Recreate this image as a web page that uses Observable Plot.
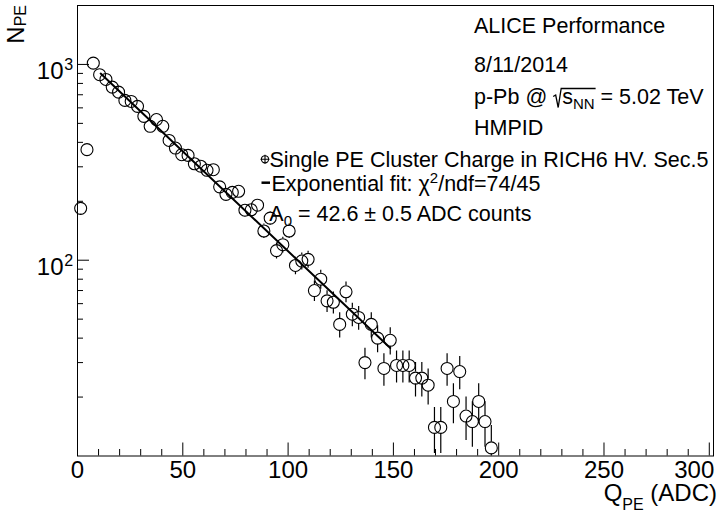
<!DOCTYPE html>
<html>
<head>
<meta charset="utf-8">
<script src="https://cdn.jsdelivr.net/npm/d3@7"></script>
<script src="https://cdn.jsdelivr.net/npm/@observablehq/plot@0.6"></script>
<style>
  html, body { margin: 0; padding: 0; background: #fff; }
  #chart { width: 728px; height: 515px; }
</style>
</head>
<body>
<div id="chart"></div>
<script>
// ---------------- data ----------------
const binCenters = [1.5,4.5,7.5,10.5,13.5,16.5,19.5,22.5,25.5,28.5,31.5,34.5,37.5,40.5,43.5,46.5,49.5,52.5,55.5,58.5,
  61.5,64.5,67.5,70.5,73.5,76.5,79.5,82.5,85.5,88.5,91.5,94.5,97.5,100.5,103.5,106.5,109.5,112.5,115.5,118.5,
  121.5,124.5,127.5,130.5,133.5,136.5,139.5,142.5,145.5,148.5,151.5,154.5,157.5,160.5,163.5,166.5,169.5,172.5,175.5,178.5,
  181.5,184.5,187.5,190.5,193.5,196.5];
const counts = [184,367,1015,886,838,766,722,655,647,611,543,483,523,483,409,374,346,343,311,302,
  288,290,237,217,222,225,180,181,191,141,164,112,120,141,94,99,101,70,80,62,
  61,47,69,53,51,30,47,40,28,39,29,29,29,25,25,23,14,14,28,19,
  27,16,15,19,15,11];
const errors = [13.6,19.2,31.9,29.8,28.9,27.7,26.9,25.6,25.4,24.7,23.3,22.0,22.9,22.0,20.2,19.3,18.6,18.5,17.6,17.4,
  17.0,17.0,15.4,14.7,14.9,15.0,13.4,13.5,13.8,11.9,12.8,10.6,11.0,11.9,9.7,9.9,10.0,8.4,8.9,7.9,
  7.8,6.9,8.3,7.3,7.1,5.5,6.9,6.3,5.3,6.2,5.4,5.4,5.4,5.0,5.0,4.8,3.7,3.7,5.3,4.4,
  5.2,4.0,3.9,4.4,3.9,3.3];
// exponential fit drawn between its end points (straight on a log axis)
const fitX = [11, 148.5];
const fitY = [898, 35.6];

const xMajorTicks = [0, 50, 100, 150, 200, 250, 300];
const xMinorTicks = [10,20,30,40,60,70,80,90,110,120,130,140,160,170,180,190,210,220,230,240,260,270,280,290];
const yMajorTicks = [100, 1000];
const yMajorExp = ["2", "3"];
const yMinorTicks = [20,30,40,50,60,70,80,90,200,300,400,500,600,700,800,900];

const headerLines = ["ALICE Performance", "8/11/2014", "HMPID"];
const legendEntry1 = "Single PE Cluster Charge in RICH6 HV. Sec.5";

// ---------------- layout ----------------
const W = 728, H = 515;
const mL = 77, mR = 15, mT = 5, mB = 59.5;
const frameW = W - mL - mR, frameH = H - mT - mB;
const xDomain = [0, 302];
const yDomain = [10, 2000];
const R = 6;
const FONT = "'Liberation Sans', Arial, Helvetica, sans-serif";

const yS = Plot.scale({y: {type: "log", domain: yDomain, range: [H - mB, mT]}});

const pts = binCenters.map((x, i) => ({x, n: counts[i], e: errors[i]}));
const upper = [], lower = [];
for (const d of pts) {
  const py = yS.apply(d.n);
  const topEdge = yS.invert(py - R);
  if (d.n + d.e > topEdge) upper.push({x: d.x, y1: topEdge, y2: d.n + d.e});
  const botEdge = yS.invert(py + R);
  const lo = Math.max(d.n - d.e, 0.5);
  if (lo < botEdge) lower.push({x: d.x, y1: lo, y2: botEdge});
}
const fit = fitX.map((x, i) => ({x, y: fitY[i]}));

const plot = Plot.plot({
  width: W, height: H,
  marginLeft: mL, marginRight: mR, marginTop: mT, marginBottom: mB,
  x: {domain: xDomain, axis: null},
  y: {type: "log", domain: yDomain, axis: null},
  style: {fontFamily: FONT, background: "white", color: "black", overflow: "visible"},
  marks: [
    Plot.ruleX(upper, {x: "x", y1: "y1", y2: "y2", stroke: "black", strokeWidth: 1.2, clip: true}),
    Plot.ruleX(lower, {x: "x", y1: "y1", y2: "y2", stroke: "black", strokeWidth: 1.2, clip: true}),
    Plot.dot(pts, {x: "x", y: "n", r: R, stroke: "black", strokeWidth: 1.1, fill: "none"}),
    Plot.line(fit, {x: "x", y: "y", stroke: "black", strokeWidth: 2}),
    Plot.tickX(xMajorTicks, {x: d => d, insetTop: frameH - 13, stroke: "black"}),
    Plot.tickX(xMinorTicks, {x: d => d, insetTop: frameH - 6.5, stroke: "black"}),
    Plot.tickY(yMajorTicks, {y: d => d, insetRight: frameW - 12, stroke: "black"}),
    Plot.tickY(yMinorTicks, {y: d => d, insetRight: frameW - 6, stroke: "black"}),
    Plot.text(xMajorTicks.slice(0, -1), {x: d => d, frameAnchor: "bottom", lineAnchor: "top", dy: 4.5, fontSize: 24, text: d => String(d), fill: "black"}),
    Plot.text(xMajorTicks.slice(-1), {x: d => d, frameAnchor: "bottom", lineAnchor: "top", textAnchor: "end", dx: 5, dy: 4.5, fontSize: 24, text: d => String(d), fill: "black"}),
    Plot.text(yMajorTicks, {y: d => d, frameAnchor: "left", textAnchor: "end", lineAnchor: "top", dx: -14, dy: -2, fontSize: 24, text: () => "10", fill: "black"}),
    Plot.text(yMajorTicks, {y: d => d, frameAnchor: "left", textAnchor: "start", lineAnchor: "top", dx: -13.3, dy: -5.5, fontSize: 16, text: (d, i) => yMajorExp[i], fill: "black"}),
    Plot.frame({stroke: "black"})
  ]
});
document.getElementById("chart").appendChild(plot);

// ---------------- rich text helpers ----------------
const svg = d3.select(plot);
function rich(parts, {x = 0, y = 0, anchor = "start", rotate = 0} = {}) {
  const outer = svg.append("g").attr("transform", `translate(${x},${y}) rotate(${rotate})`);
  const inner = outer.append("g");
  let cx = 0;
  const pos = [];
  for (const p of parts) {
    if (p.gap) { pos.push({x0: cx, x1: cx + p.gap}); cx += p.gap; continue; }
    const t = inner.append("text")
      .attr("x", cx).attr("y", p.dy || 0)
      .attr("text-anchor", "start")
      .attr("font-size", p.size || 21.5)
      .attr("fill", "black")
      .style("white-space", "pre")
      .text(p.t);
    const w = t.node().getComputedTextLength();
    pos.push({x0: cx, x1: cx + w});
    cx += w;
  }
  if (anchor === "end") inner.attr("transform", `translate(${-cx},0)`);
  return {inner, pos, width: cx};
}

// axis titles
rich([{t: "Q", size: 24}, {t: "PE", size: 16, dy: 9.5}, {t: " (ADC)", size: 24}], {x: 717, y: 500.5, anchor: "end"});
rich([{t: "N", size: 24}, {t: "PE", size: 16, dy: 2}], {x: 24, y: 5, anchor: "end", rotate: -90});

// header block
rich([{t: headerLines[0]}], {x: 474, y: 33.3});
rich([{t: headerLines[1]}], {x: 474, y: 71.7});
const pl = rich([{t: "p-Pb @ "}, {gap: 9}, {t: "s"}, {t: "NN", size: 15, dy: 5}, {t: " = 5.02 TeV"}], {x: 474, y: 103.5});
{
  const g0 = pl.pos[1].x0, end = pl.pos[3].x1 + 1;
  pl.inner.append("path")
    .attr("d", `M${g0},-7 L${g0 + 2.5},-8.5 L${g0 + 5},4 L${g0 + 8},-15 L${end},-15`)
    .attr("fill", "none").attr("stroke", "black").attr("stroke-width", 1.3);
}
rich([{t: headerLines[2]}], {x: 474, y: 135});

// legend
const lg = svg.append("g");
lg.append("circle").attr("cx", 265).attr("cy", 159.3).attr("r", 3.6)
  .attr("fill", "none").attr("stroke", "black").attr("stroke-width", 1.1);
lg.append("path").attr("d", "M260.5,159.3 H269.5 M265,154.8 V163.8")
  .attr("stroke", "black").attr("stroke-width", 1.1);
lg.append("line").attr("x1", 261.5).attr("x2", 270).attr("y1", 182.7).attr("y2", 182.7)
  .attr("stroke", "black").attr("stroke-width", 2.5);
rich([{t: legendEntry1}], {x: 269.5, y: 166.7});
rich([{t: "Exponential fit: "}, {t: "\u03C7"}, {t: "2", size: 15, dy: -8}, {t: "/ndf=74/45"}], {x: 271.5, y: 190.5});
rich([{t: "A"}, {t: "0", size: 15, dy: 5}, {t: " = 42.6 \u00B1 0.5 ADC counts"}], {x: 269.3, y: 221});
</script>
</body>
</html>
